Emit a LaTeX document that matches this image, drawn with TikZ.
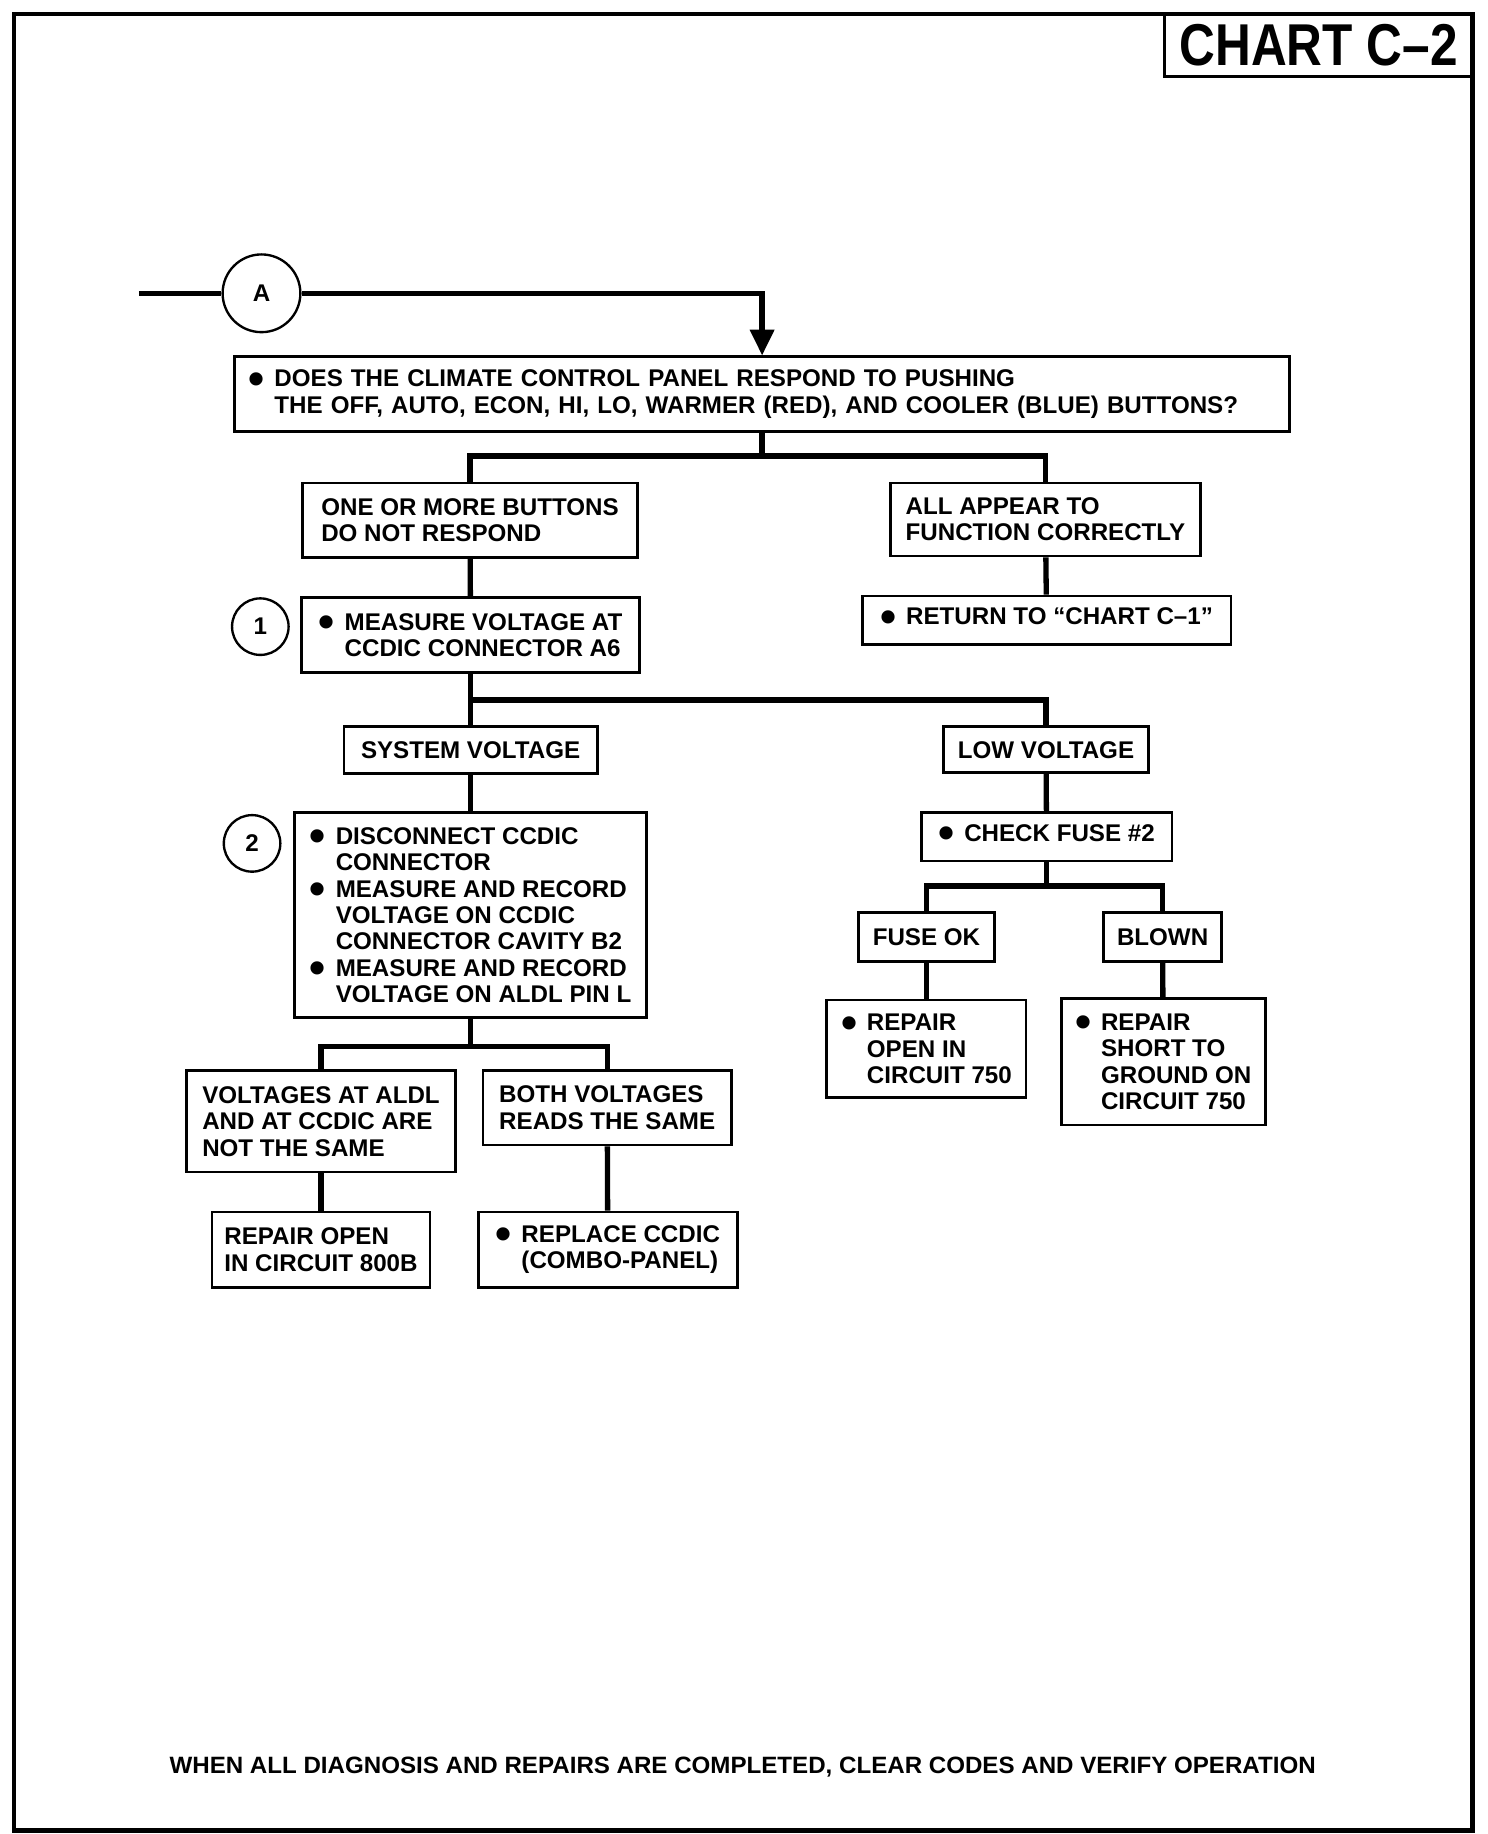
\documentclass[tikz,border=0pt]{standalone}
\usepackage{fontspec}
\setmainfont{Liberation Sans}
\usepackage{graphicx}
\usepackage{tikz}
\usetikzlibrary{arrows.meta,positioning}

\newcommand{\bitem}{\makebox[22pt][l]{\raisebox{-6.2pt}{\scalebox{1.9}{\textbullet}}}}
\newcommand{\bcont}{\hspace*{22pt}}

\begin{document}
\begin{tikzpicture}[x=1pt,y=-1pt]
	\tikzstyle{every node}+=[font=\fontsize{20.5}{22.4}\selectfont\bfseries]
	\tikzstyle{box}=[draw, line width=2.4pt, align=left, inner xsep=10pt, inner ysep=3pt]
	\tikzstyle{numcirc}=[draw, circle, line width=2pt, inner sep=0pt]
	\tikzstyle{link}=[line width=4.5pt]
	\useasboundingbox (0,0) rectangle (1263,1557);
	\draw [line width=4pt] (12,12) rectangle (1250,1554);
	\node [draw, line width=2.6pt, minimum width=261pt, minimum height=53pt, inner sep=0pt] (title) at (1119.5,38.5) {\resizebox{236pt}{35pt}{CHART C\textendash2}};

	\node [numcirc, minimum size=66pt] (A) at (222,249) {A};
	\coordinate (start) at (118,249);
	\node [box, minimum width=896pt, minimum height=63pt, text width=872pt, inner xsep=12pt] (q) at (647,334.5) {\bitem DOES THE CLIMATE CONTROL PANEL RESPOND TO PUSHING\\\bcont THE OFF, AUTO, ECON, HI, LO, WARMER (RED), AND COOLER (BLUE) BUTTONS?};
	\node [box, minimum width=284pt, minimum height=63pt] (none) at (399,441.5) {ONE OR MORE BUTTONS\\DO NOT RESPOND};
	\node [box, minimum width=263pt, minimum height=62pt] (allok) at (887.5,441) {ALL APPEAR TO\\FUNCTION CORRECTLY};
	\node [box, minimum width=313pt, minimum height=41pt] (ret) at (888.5,526.5) {\bitem RETURN TO “CHART C–1”};
	\node [box, minimum width=287pt, minimum height=64pt] (meas) at (399.5,539) {\bitem MEASURE VOLTAGE AT\\\bcont CCDIC CONNECTOR A6};
	\node [numcirc, minimum size=48pt] (n1) at (221,532) {1};
	\node [box, minimum width=215pt, minimum height=40pt] (sysv) at (399.5,637) {SYSTEM VOLTAGE};
	\node [box, minimum width=174pt, minimum height=39pt] (lowv) at (888,636.5) {LOW VOLTAGE};
	\node [box, minimum width=213pt, minimum height=41pt] (fuse) at (888.5,710.5) {\bitem CHECK FUSE \#2};
	\node [box, minimum width=115pt, minimum height=41pt] (fuseok) at (786.5,795.5) {FUSE OK};
	\node [box, minimum width=100pt, minimum height=41pt] (blown) at (987,795.5) {BLOWN};
	\node [box, minimum width=169pt, minimum height=83pt] (rep750) at (786.5,890.5) {\bitem REPAIR\\\bcont OPEN IN\\\bcont CIRCUIT 750};
	\node [box, minimum width=173pt, minimum height=107pt] (short) at (987.5,901.5) {\bitem REPAIR\\\bcont SHORT TO\\\bcont GROUND ON\\\bcont CIRCUIT 750};
	\node [box, minimum width=299pt, minimum height=174pt, inner xsep=8pt] (disc) at (399.5,777) {\bitem DISCONNECT CCDIC\\\bcont CONNECTOR\\\bitem MEASURE AND RECORD\\\bcont VOLTAGE ON CCDIC\\\bcont CONNECTOR CAVITY B2\\\bitem MEASURE AND RECORD\\\bcont VOLTAGE ON ALDL PIN L};
	\node [numcirc, minimum size=48pt] (n2) at (214,716) {2};
	\node [box, minimum width=229pt, minimum height=86pt] (notsame) at (272.5,952) {VOLTAGES AT ALDL\\AND AT CCDIC ARE\\NOT THE SAME};
	\node [box, minimum width=211pt, minimum height=63pt] (same) at (515.5,940.5) {BOTH VOLTAGES\\READS THE SAME};
	\node [box, minimum width=185pt, minimum height=64pt] (rep800) at (272.5,1061) {REPAIR OPEN\\IN CIRCUIT 800B};
	\node [box, minimum width=220pt, minimum height=64pt] (replace) at (516,1061) {\bitem REPLACE CCDIC\\\bcont (COMBO-PANEL)};
	\node [anchor=base, inner sep=0pt] (note) at (630.5,1506) {\resizebox{973pt}{14pt}{WHEN ALL DIAGNOSIS AND REPAIRS ARE COMPLETED, CLEAR CODES AND VERIFY OPERATION}};

	\draw [link] (start) -- (A.west);
	\draw [link, -{Triangle[width=20pt,length=22pt]}] (A.east) -| (q.north);
	\draw [link] (q.south) -- ++(0,20) -| (none.north);
	\draw [link] (q.south) -- ++(0,20) -| (allok.north);
	\draw [link] (allok) -- (ret);
	\draw [link] (none) -- (meas);
	\draw [link] (meas.south) -- ++(0,22) -| (sysv.north);
	\draw [link] (meas.south) -- ++(0,22) -| (lowv.north);
	\draw [link] (lowv) -- (fuse);
	\draw [link] (fuse.south) -- ++(0,20) -| (fuseok.north);
	\draw [link] (fuse.south) -- ++(0,20) -| (blown.north);
	\draw [link] (fuseok) -- (rep750);
	\draw [link] (blown) -- (short);
	\draw [link] (sysv) -- (disc);
	\draw [link] (disc.south) -- ++(0,23) -| (notsame.north);
	\draw [link] (disc.south) -- ++(0,23) -| (same.north);
	\draw [link] (notsame) -- (rep800);
	\draw [link] (same) -- (replace);
\end{tikzpicture}
\end{document}
